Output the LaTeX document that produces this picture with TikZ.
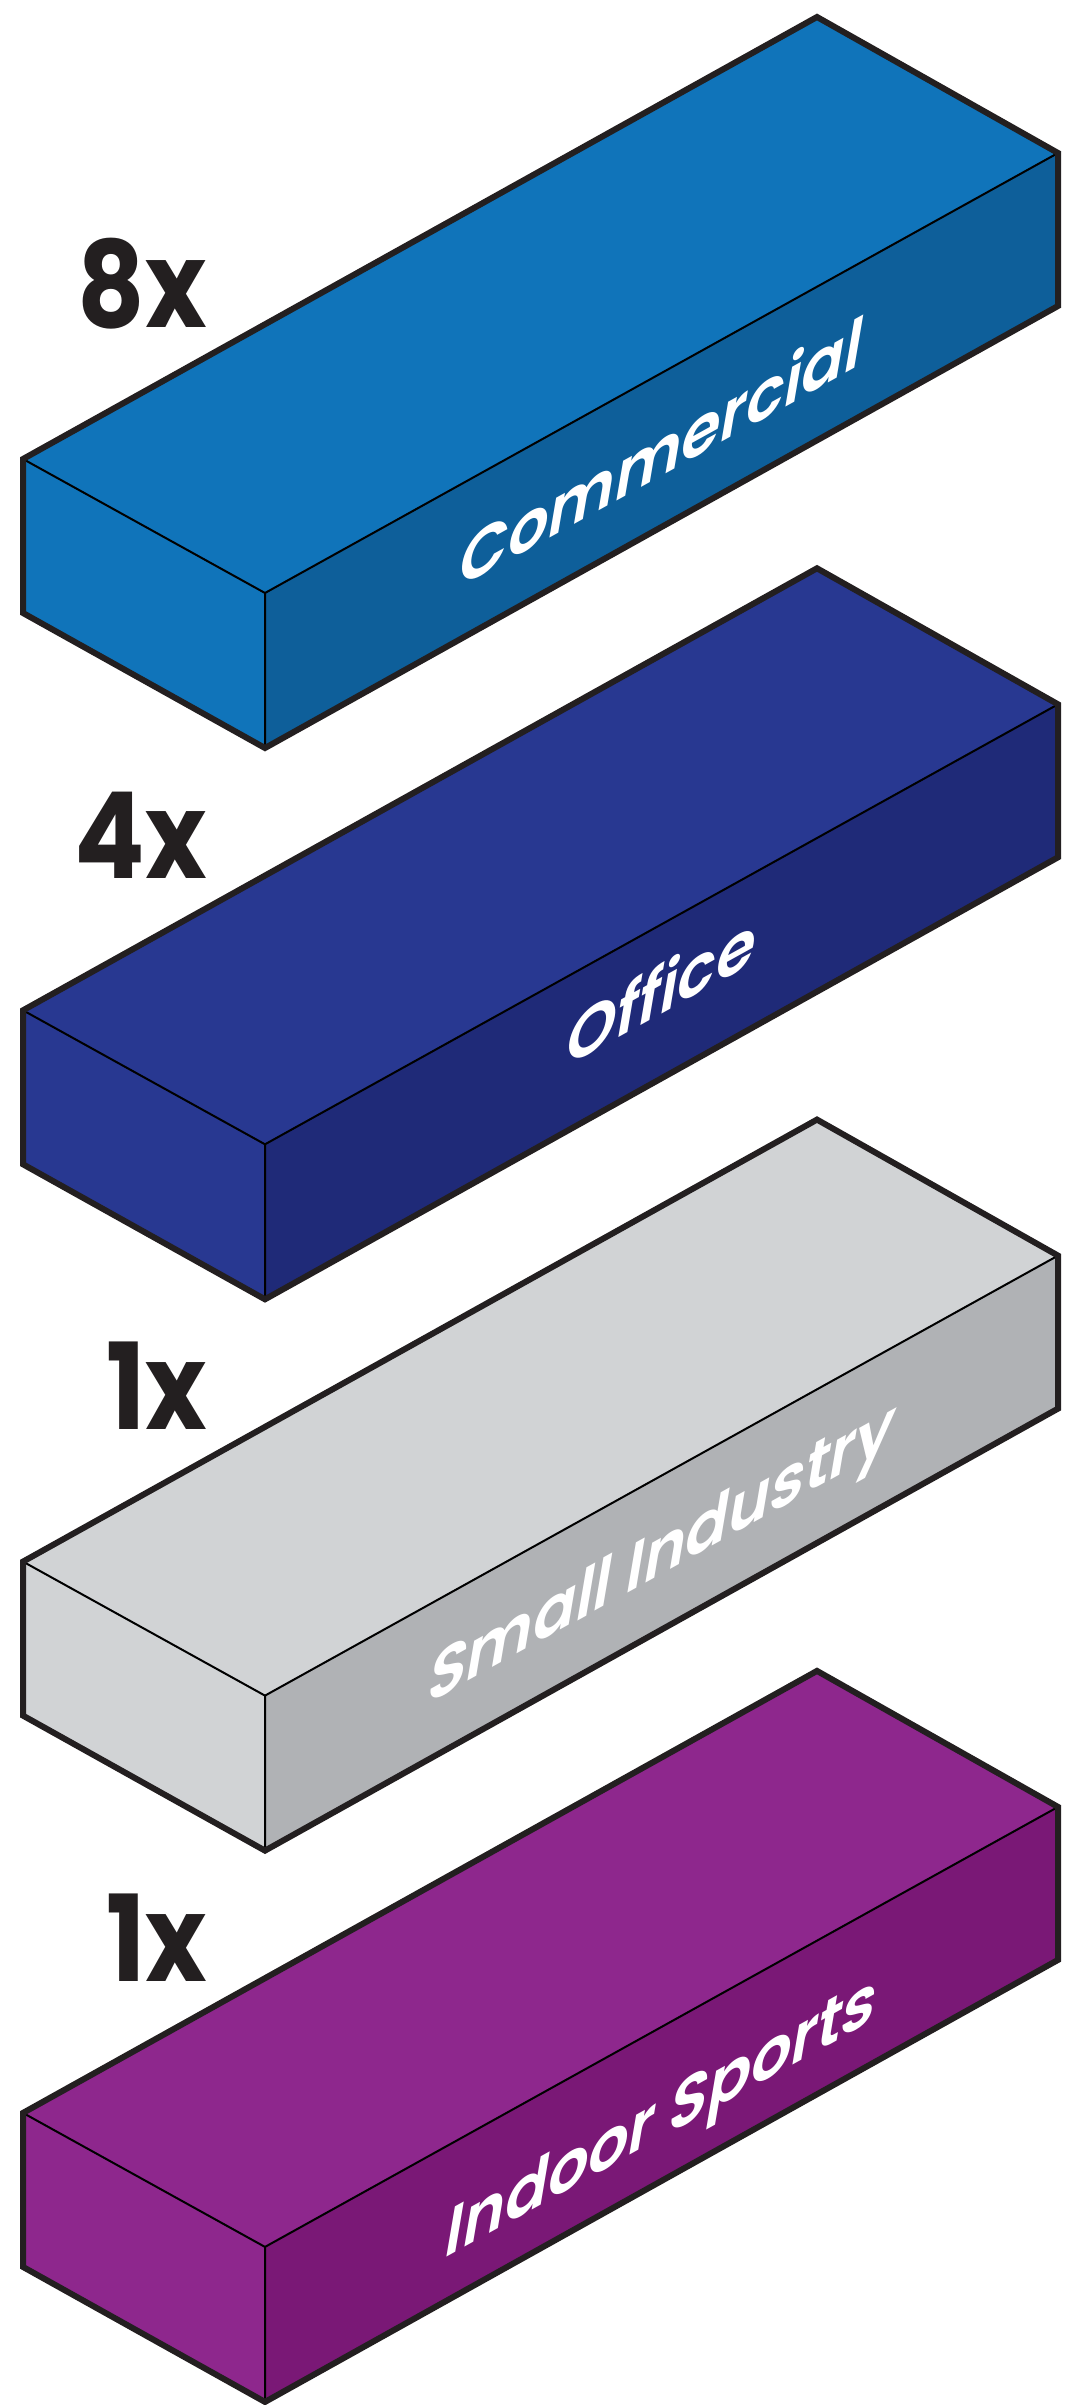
\documentclass[tikz,border=0pt]{standalone}
\usepackage{fontspec}
\setmainfont{Poppins}
\newfontfamily\labfont{Poppins SemiBold}
\definecolor{edgec}{HTML}{231F20}
\definecolor{comtop}{HTML}{1074BA}
\definecolor{comside}{HTML}{0E5F9A}
\definecolor{offtop}{HTML}{283891}
\definecolor{offside}{HTML}{1F2A78}
\definecolor{indtop}{HTML}{D1D3D5}
\definecolor{indside}{HTML}{B0B2B5}
\definecolor{spotop}{HTML}{8E278D}
\definecolor{sposide}{HTML}{7A1876}
\newcommand\isobox[4]{%
  \begin{scope}[shift={(0,#1)}]
    \coordinate (#4L) at (23,459);
    \coordinate (#4B) at (817,17);
    \coordinate (#4R) at (1058,153);
    \coordinate (#4F) at (265,593);
    \coordinate (#4Fb) at (265,748);
    \coordinate (#4Lb) at (23,613);
    \coordinate (#4Rb) at (1058,306);
    \fill[#2] (#4L) -- (#4B) -- (#4R) -- (#4F) -- cycle;
    \fill[#2] (#4L) -- (#4F) -- (#4Fb) -- (#4Lb) -- cycle;
    \fill[#3] (#4F) -- (#4R) -- (#4Rb) -- (#4Fb) -- cycle;
    \draw[inneredge] (#4L) -- (#4F) -- (#4R) (#4F) -- (#4Fb);
    \draw[outline] (#4L) -- (#4B) -- (#4R) -- (#4Rb) -- (#4Fb) -- (#4Lb) -- cycle;
  \end{scope}}
\newcommand\facelabel[3]{%
  \begin{scope}[shift={(658,#1)}, cm={1,0.555,0.17,1,(0,0)}]
    \node[lab] (#2) at (0,0) {#3};
  \end{scope}}
\begin{document}
\begin{tikzpicture}[x=1pt,y=-1pt,line join=miter,
  outline/.style={draw=edgec,line width=6pt},
  inneredge/.style={draw=black,line width=2pt},
  count/.style={font=\fontsize{120}{120}\selectfont\bfseries,text=edgec,anchor=base east,inner sep=0pt,xscale=0.87},
  lab/.style={font=\fontsize{72}{72}\selectfont\labfont,text=white,anchor=base,inner sep=0pt,transform shape,xscale=0.88}]
\useasboundingbox (0,0) rectangle (1077,2405);
\isobox{0}{comtop}{comside}{a}
\isobox{551.3}{offtop}{offside}{b}
\isobox{1102.6}{indtop}{indside}{c}
\isobox{1653.9}{spotop}{sposide}{d}
\facelabel{478}{la}{Commercial}
\facelabel{1016}{lb}{Office}
\facelabel{1576}{lc}{Small Industry}
\facelabel{2140}{ld}{Indoor Sports}
\node[count] (ca) at (207,327) {8x};
\node[count] (cb) at (207,878.3) {4x};
\node[count] (cc) at (207,1429.6) {1x};
\node[count] (cd) at (207,1981) {1x};
\end{tikzpicture}
\end{document}
